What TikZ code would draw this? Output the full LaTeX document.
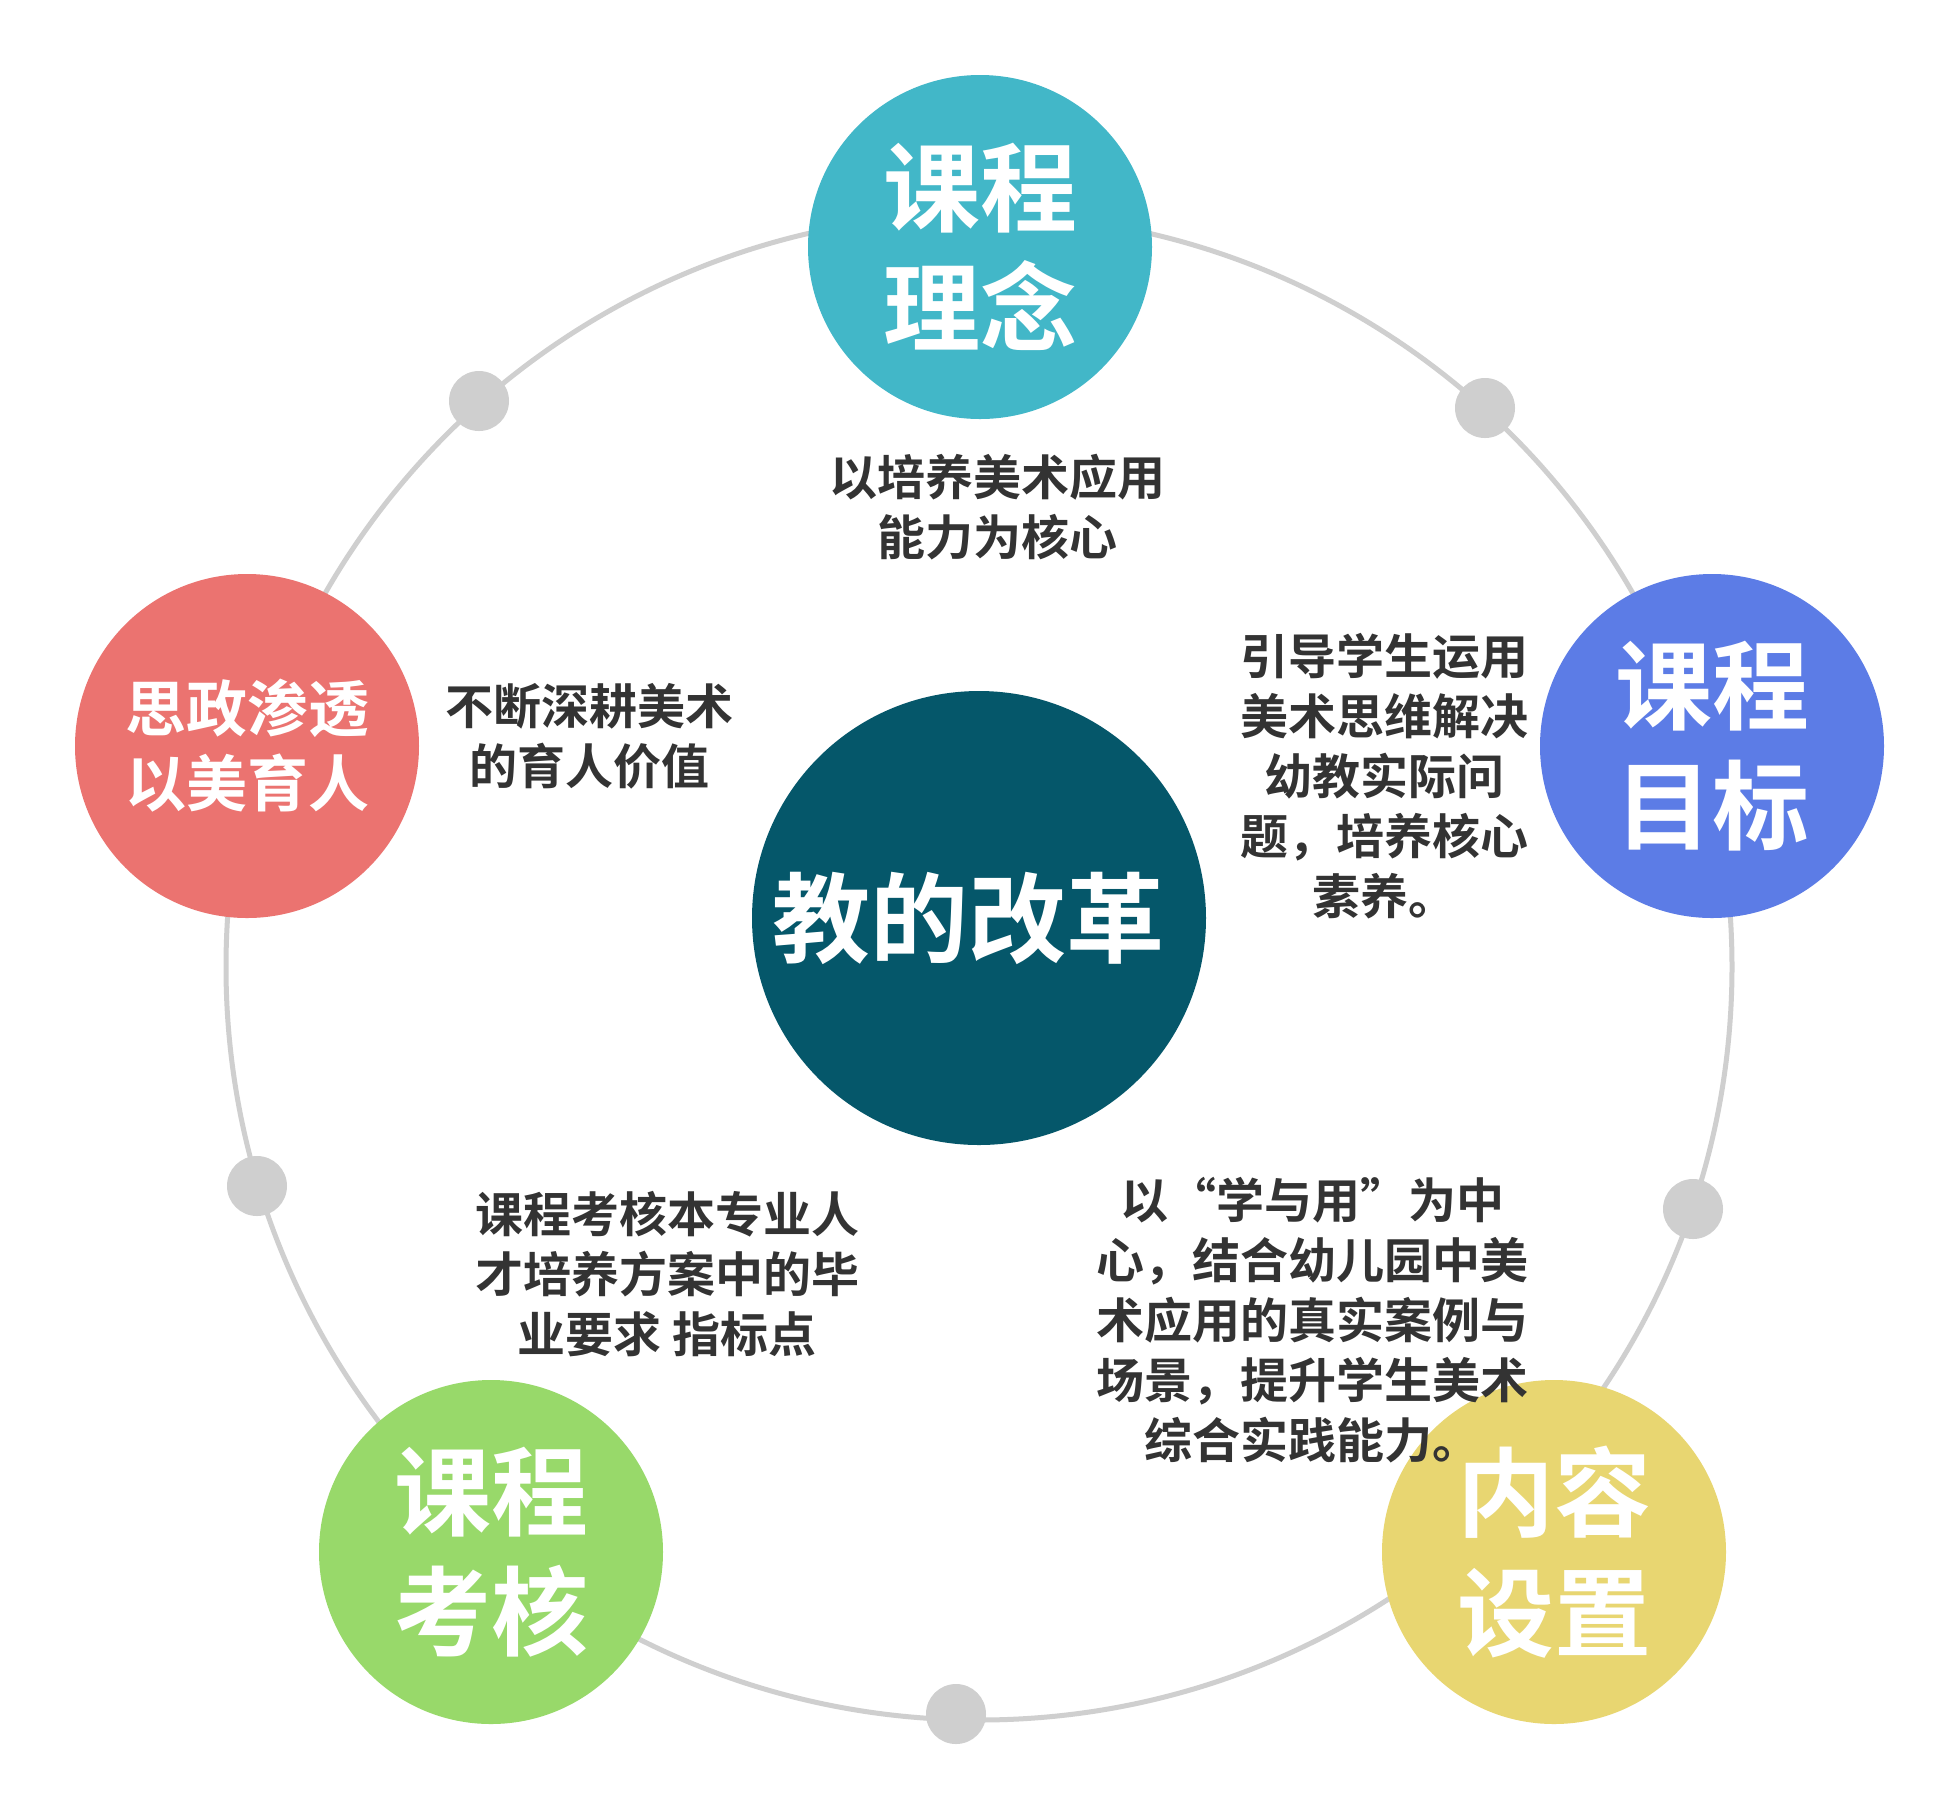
\documentclass[tikz,border=0pt]{standalone}
\usepackage{fontspec}
\setmainfont{Noto Sans CJK SC}[BoldFont={* Bold}]
\definecolor{cTeal}{HTML}{42B7C8}
\definecolor{cBlue}{HTML}{5C7CE6}
\definecolor{cSalmon}{HTML}{EB7370}
\definecolor{cGreen}{HTML}{98D96A}
\definecolor{cYellow}{HTML}{E8D671}
\definecolor{cDark}{HTML}{05576A}
\definecolor{cRing}{HTML}{CFCFCF}
\definecolor{cText}{HTML}{333333}
\newcommand\fwq[1]{{\addfontfeatures{RawFeature=+fwid}#1}}
\begin{document}
\begin{tikzpicture}[x=0.5pt,y=-0.5pt,
  bigc/.style={circle, inner sep=0pt, minimum size=172pt, text=white, align=center,
    font=\bfseries\fontsize{48.5}{60}\selectfont},
  smallc/.style={bigc, font=\bfseries\fontsize{30.5}{37.5}\selectfont},
  ringdot/.style={circle, inner sep=0pt, minimum size=30pt, fill=cRing},
  bodytext/.style={inner sep=0pt, align=center, text=cText,
    font=\bfseries\fontsize{24}{30}\selectfont},
  ringline/.style={draw=cRing, line width=2.5pt}
]
\useasboundingbox (0,0) rectangle (1960,1812);
\fill[white] (0,0) rectangle (1960,1812);

% ring
\coordinate (ringc) at (979,967);
\draw[ringline] (ringc) circle[radius=376.5pt];

% dots
\node[ringdot] (d1) at (479,401) {};
\node[ringdot] (d2) at (1485,408) {};
\node[ringdot] (d3) at (257,1186) {};
\node[ringdot] (d4) at (1693,1209) {};
\node[ringdot] (d5) at (956,1714) {};

% circles
\node[bigc, fill=cTeal] (idea) at (980,247) {课程\\理念};
\node[bigc, fill=cBlue] (goal) at (1712,746) {课程\\目标};
\node[bigc, fill=cYellow] (content) at (1554,1552) {内容\\设置};
\node[bigc, fill=cGreen] (exam) at (491,1552) {课程\\考核};
\node[smallc, fill=cSalmon] (ideo) at (247,746) {思政渗透\\以美育人};
\node[circle, inner sep=0pt, minimum size=227pt, fill=cDark] (core) at (979,918) {};
\node[inner sep=0pt, text=white, font=\bfseries\fontsize{49}{60}\selectfont] (coretext) at (968,918) {教的改革};

% body texts
\node[bodytext] (t1) at (997,507) {以培养美术应用\\能力为核心};
\node[bodytext] (t2) at (1384,776) {引导学生运用\\美术思维解决\\幼教实际问\\题，培养核心\\素养。};
\node[bodytext] (t3) at (1312,1320) {以\fwq{“}学与用\fwq{”}为中\\心，结合幼儿园中美\\术应用的真实案例与\\场景，提升学生美术\\综合实践能力。};
\node[bodytext] (t4) at (667,1274) {课程考核本专业人\\才培养方案中的毕\\业要求 指标点};
\node[bodytext] (t5) at (589,736) {不断深耕美术\\的育人价值};
\end{tikzpicture}
\end{document}
